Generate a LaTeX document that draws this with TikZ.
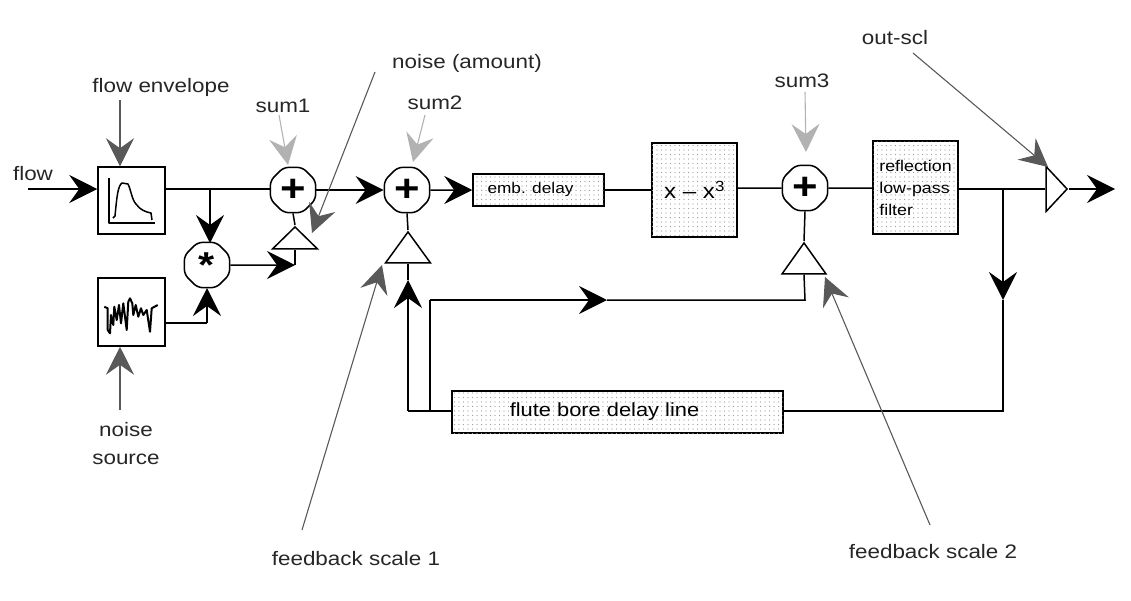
\documentclass[tikz,border=0pt]{standalone}
\usepackage{fontspec}
\setmainfont[FakeStretch=1.15]{Liberation Sans}
\usetikzlibrary{arrows.meta,shapes.geometric,patterns.meta}
\tikzset{
  x=1pt,y=-1pt,
  wire/.style={line width=1.5pt,black},
  flowtip/.style={wire,-{Stealth[length=28pt,width=28pt,inset=10pt]}},
  notetip/.style={line width=1.1pt,draw=#1,-{Stealth[length=28pt,width=28pt,inset=10pt,color=#1]}},
  lbl/.style={font=\fontsize{19.5}{24}\selectfont,text=black!85,inner sep=0pt},
  plainbox/.style={draw,line width=1.5pt,fill=white,inner sep=0pt},
  dotbox/.style={draw,line width=1.5pt,inner sep=0pt,
    postaction={pattern={Dots[distance=4.5pt,radius=0.55pt]},pattern color=black!40}},
  junction/.style={draw,line width=1.5pt,fill=white,shape=regular polygon,regular polygon sides=8,minimum size=49pt,inner sep=0pt,rounded corners=5pt,font=\fontsize{38}{38}\bfseries\selectfont},
  gain/.style={draw,line width=1.5pt,fill=white,shape=isosceles triangle,isosceles triangle stretches,inner sep=0pt,shape border rotate=#1},
  glyph/.style={line width=1.5pt,line join=round},
}
\begin{document}
\begin{tikzpicture}
\useasboundingbox (0,0) rectangle (1131,600);
% blocks
\node[plainbox,minimum width=67pt,minimum height=67pt] (env) at (131.5,200.5) {};
\node[plainbox,minimum width=67pt,minimum height=68pt] (nse) at (131.5,312) {};
\node[junction] (s1) at (293,190) {+};
\node[junction,font=\fontsize{36}{36}\bfseries\selectfont] (mul) at (207,265) {*};
\node[junction] (s2) at (407,190) {+};
\node[junction] (s3) at (805,188) {+};
\node[dotbox,minimum width=131pt,minimum height=32pt,font=\fontsize{15}{18}\selectfont] (emb) at (538.5,190) {emb. delay\kern16pt};
\node[dotbox,minimum width=85pt,minimum height=94pt,font=\fontsize{21}{24}\selectfont] (cub) at (694.5,190) {x – x\textsuperscript{3}};
\node[dotbox,minimum width=85pt,minimum height=93pt,font=\fontsize{15.5}{22}\selectfont,align=left] (lpf) at (915.5,187.5) {reflection\\low-pass\\filter};
\node[dotbox,minimum width=331pt,minimum height=42pt,font=\fontsize{19}{22}\selectfont] (bore) at (617.5,412) {flute bore delay line\kern26pt};
\node[gain=90,minimum width=45pt,minimum height=22pt,anchor=apex] (g1) at (295,225) {};
\node[gain=90,minimum width=45pt,minimum height=31pt,anchor=apex] (g2) at (408,230) {};
\node[gain=90,minimum width=44pt,minimum height=31pt,anchor=apex] (g3) at (804,241) {};
\node[gain=0,minimum width=45pt,minimum height=21pt,anchor=apex] (g4) at (1069,189) {};
% glyphs
\draw[glyph] (109,178) -- (109,223) -- (155,223);
\draw[glyph] (113,218) -- (115,216) .. controls (117,195) and (118,186) .. (122,183) -- (128,184) .. controls (131,190) and (132,200) .. (136,204) .. controls (140,210) and (146,212) .. (151,213) -- (152,220);
\draw[glyph,line width=2pt] (104.3,306.7) -- (107.7,308.3) -- (107.7,330) -- (110,333.3) -- (111,315) -- (113.3,325) -- (114.3,306.7) -- (116.7,320) -- (119,305) -- (121,323.3) -- (123.3,303.3) -- (126.7,330) -- (128.3,301.7) -- (130,298.3) -- (132.3,303.3) -- (133.3,315) -- (135.7,305) -- (138.3,316.7) -- (141,308.3) -- (143.3,315) -- (146.7,310) -- (150,331.7) -- (151.7,308.3) -- (157.7,305);
% labels
\node[lbl] (tflow) at (33,174) {flow};
\node[lbl] (tenv) at (161,87) {flow envelope};
\node[lbl] (tsum1) at (283,106) {sum1};
\node[lbl] (tnoise) at (467,63) {noise (amount)};
\node[lbl] (tsum2) at (435,103) {sum2};
\node[lbl] (tsum3) at (802,81) {sum3};
\node[lbl] (tout) at (895,38) {out-scl};
\node[lbl,align=center,font=\fontsize{19.5}{28}\selectfont] (tsrc) at (126,444) {noise\\source};
\node[lbl] (tfb1) at (356,559) {feedback scale 1};
\node[lbl] (tfb2) at (933,552) {feedback scale 2};
% coordinates
\coordinate (flowin) at (28,189);
\coordinate (outend) at (1115,189);
\coordinate (envtap) at (210,189);
\coordinate (multop) at (210,243);
\coordinate (nsetap) at (165,323);
\coordinate (nsecor) at (207,323);
\coordinate (multbot) at (207,288);
\coordinate (mulout) at (295,265);
\coordinate (fbtip) at (408,280);
\coordinate (fbcor) at (408,411);
\coordinate (fbtap) at (430,411);
\coordinate (fbup) at (430,300);
\coordinate (fbarr) at (607,300);
\coordinate (fbright) at (805,300);
\coordinate (outtap) at (1003,189);
\coordinate (dntip) at (1003,300);
\coordinate (dncor) at (1003,411);
\coordinate (borein) at (783,411);
\coordinate (boreout) at (452,411);
% connectors
\draw[flowtip] (flowin) -- (env.west |- flowin);
\draw[wire] (env.east |- envtap) -- (s1.west |- envtap);
\draw[flowtip] (envtap) -- (multop);
\draw[wire] (nsetap) -- (nsecor);
\draw[flowtip] (nsecor) -- (multbot);
\draw[flowtip] (mul.east) -- (mulout);
\draw[wire] (mulout) -- (g1.lower side);
\draw[wire] (g1.apex) -- (s1.south);
\draw[flowtip] (s1.east) -- (s2.west);
\draw[flowtip] (s2.east) -- (emb.west);
\draw[wire] (emb.east) -- (cub.west);
\draw[wire] (cub.east |- s3) -- (s3.west);
\draw[wire] (s3.east) -- (lpf.west |- s3);
\draw[wire] (lpf.east |- outtap) -- (g4.lower side);
\draw[flowtip] (g4.apex) -- (outend);
\draw[flowtip] (outtap) -- (dntip);
\draw[wire] (dntip) -- (dncor) -- (borein);
\draw[wire] (boreout) -- (fbcor);
\draw[flowtip] (fbcor) -- (fbtip);
\draw[wire] (fbtip) -- (g2.lower side);
\draw[wire] (g2.apex) -- (s2.south);
\draw[wire] (fbtap) -- (fbup);
\draw[flowtip] (fbup) -- (fbarr);
\draw[wire] (fbarr) -- (fbright) -- (g3.lower side);
\draw[wire] (g3.apex) -- (s3.south);
% annotation arrows
\coordinate (a1) at (120,100);
\coordinate (a2) at (279,115);
\coordinate (a2t) at (288,165);
\coordinate (a3) at (375,72);
\coordinate (a3t) at (312,233);
\coordinate (a4) at (425,115);
\coordinate (a4t) at (413,162);
\coordinate (a5) at (302,530);
\coordinate (a5t) at (382,265);
\coordinate (a6) at (930,525);
\coordinate (a6t) at (825,277);
\coordinate (a7) at (805,92);
\coordinate (a7t) at (806,152);
\coordinate (a8) at (913,53);
\coordinate (a8t) at (1048,167);
\coordinate (a9) at (120,410);
\draw[notetip=black!65] (a1) -- (a1 |- env.north);
\draw[notetip=black!30] (a2) -- (a2t);
\draw[notetip=black!65] (a3) -- (a3t);
\draw[notetip=black!30] (a4) -- (a4t);
\draw[notetip=black!65] (a5) -- (a5t);
\draw[notetip=black!65] (a6) -- (a6t);
\draw[notetip=black!30] (a7) -- (a7t);
\draw[notetip=black!65] (a8) -- (a8t);
\draw[notetip=black!65] (a9) -- (a9 |- nse.south);
\end{tikzpicture}
\end{document}
